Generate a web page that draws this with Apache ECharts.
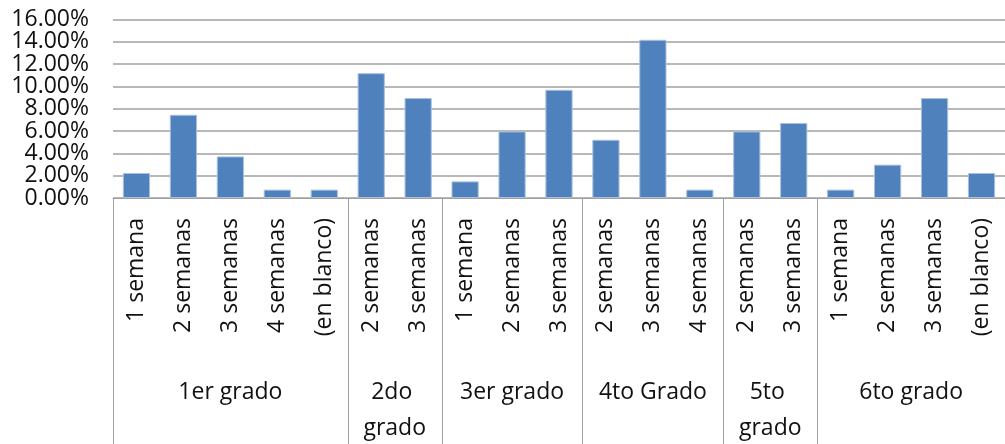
<!DOCTYPE html>
<html>
<head>
<meta charset="utf-8">
<script src="https://cdn.jsdelivr.net/npm/echarts@6/dist/echarts.min.js"></script>
<style>
  html, body { margin: 0; padding: 0; background: #fff; }
  #chart { width: 1005px; height: 444px; }
</style>
</head>
<body>
<div id="chart"></div>
<script>
// Duration categories, grouped by school grade
const categories = [
  '1 semana', '2 semanas', '3 semanas', '4 semanas', '(en blanco)',
  '2 semanas', '3 semanas',
  '1 semana', '2 semanas', '3 semanas',
  '2 semanas', '3 semanas', '4 semanas',
  '2 semanas', '3 semanas',
  '1 semana', '2 semanas', '3 semanas', '(en blanco)'
];
// Share of responses per category (percent)
const values = [
  2.24, 7.46, 3.73, 0.75, 0.75,
  11.19, 8.96,
  1.49, 5.97, 9.70,
  5.22, 14.18, 0.75,
  5.97, 6.72,
  0.75, 2.99, 8.96, 2.24
];
// Grade groups and how many categories each spans
const groupNames = ['1er grado', '2do grado', '3er grado', '4to Grado', '5to grado', '6to grado'];
const groupSizes = [5, 2, 3, 3, 2, 4];
// Y axis ticks
const yTicks = [0, 2, 4, 6, 8, 10, 12, 14, 16];

const FONT = '"Open Sans", "Noto Sans", sans-serif';
const TEXT = '#111';
const LINE = '#a0a0a0';

const chart = echarts.init(document.getElementById('chart'), null, { renderer: 'canvas' });

chart.setOption({
  animation: false,
  grid: { left: 113, top: 19.5, bottom: 246, right: -9, containLabel: false },
  xAxis: {
    type: 'category',
    data: categories,
    axisLine: { show: true, lineStyle: { color: LINE, width: 1 } },
    axisTick: { show: false },
    axisLabel: {
      interval: 0,
      rotate: 90,
      margin: 20,
      fontFamily: FONT,
      fontSize: 23,
      color: TEXT
    }
  },
  yAxis: {
    type: 'value',
    min: yTicks[0],
    max: yTicks[yTicks.length - 1],
    interval: yTicks[1] - yTicks[0],
    axisLine: { show: false },
    axisTick: { show: false },
    splitLine: { lineStyle: { color: LINE, width: 1.5 } },
    // tick labels are tightly packed, so they are placed below as graphic text
    axisLabel: { show: false }
  },
  series: [{
    type: 'bar',
    data: values,
    barCategoryGap: '42%',
    itemStyle: { color: '#4F81BD', borderColor: '#a9c1e0', borderWidth: 1 }
  }]
});

const elements = [];

// Y axis tick labels, positioned through the value axis
const gridLeft = chart.convertToPixel({ xAxisIndex: 0 }, 0) - (chart.convertToPixel({ xAxisIndex: 0 }, 1) - chart.convertToPixel({ xAxisIndex: 0 }, 0)) / 2;
yTicks.forEach(t => {
  elements.push({
    type: 'text',
    x: gridLeft - 24,
    y: chart.convertToPixel({ yAxisIndex: 0 }, t),
    style: {
      text: t.toFixed(2) + '%',
      align: 'right',
      verticalAlign: 'middle',
      fontFamily: FONT,
      fontSize: 23,
      fill: TEXT
    },
    silent: true
  });
});

// Grade group separators and labels beneath the category labels
const x0 = chart.convertToPixel({ xAxisIndex: 0 }, 0);
const x1 = chart.convertToPixel({ xAxisIndex: 0 }, 1);
const step = x1 - x0;
const axisY = chart.convertToPixel({ yAxisIndex: 0 }, 0);
let start = 0;
groupSizes.forEach((size, g) => {
  const left = x0 - step / 2 + start * step;
  const right = left + size * step;
  elements.push({
    type: 'line',
    shape: { x1: Math.round(left) + 0.5, y1: axisY, x2: Math.round(left) + 0.5, y2: 444 },
    style: { stroke: LINE, lineWidth: 1 },
    silent: true
  });
  elements.push({
    type: 'text',
    x: (left + right) / 2,
    y: 374,
    style: {
      text: groupNames[g],
      width: size * step - 10,
      overflow: 'break',
      align: 'center',
      verticalAlign: 'top',
      lineHeight: 36,
      fontFamily: FONT,
      fontSize: 23,
      fill: TEXT
    },
    silent: true
  });
  start += size;
});
chart.setOption({ graphic: { elements } });
</script>
</body>
</html>
